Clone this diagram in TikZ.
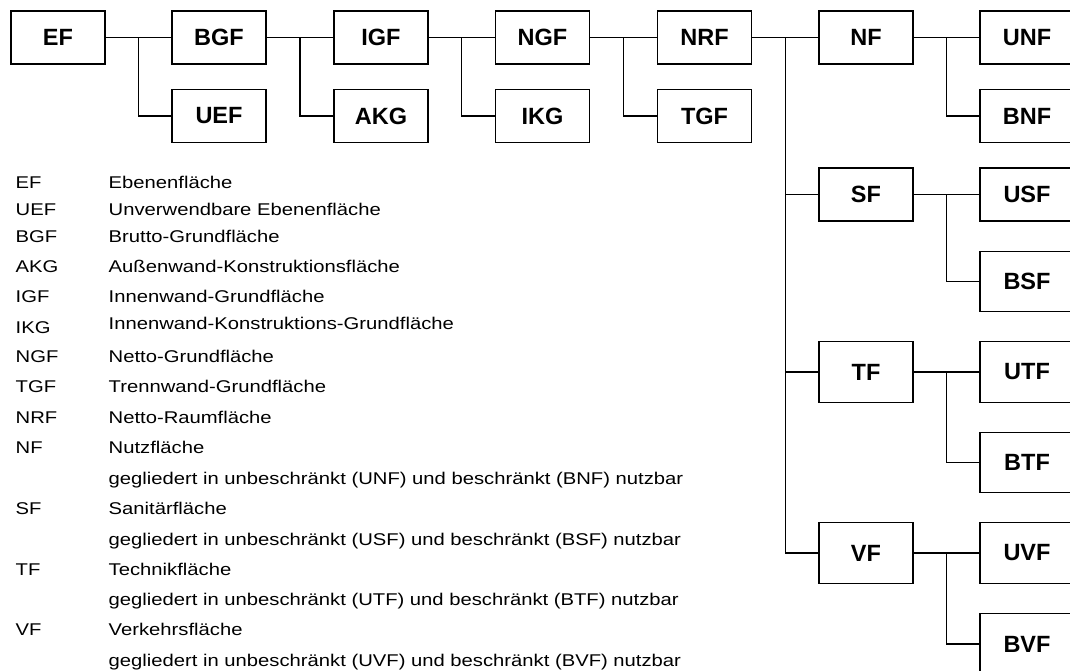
\documentclass[tikz,border=0pt]{standalone}
\usepackage{fontspec}
\setmainfont{Liberation Sans}
\newfontfamily\legfont[FakeStretch=1.19]{Liberation Sans}
\usetikzlibrary{positioning,calc}

\begin{document}
\begin{tikzpicture}[x=1pt,y=-1pt,line width=1.4pt,
  b/.style={draw,minimum width=94pt,minimum height=53pt,inner sep=0pt,font=\fontsize{23.5}{24}\selectfont\bfseries},
  bb/.style={b,minimum height=60.5pt},
  t/.style={anchor=base west,inner sep=0pt,font=\legfont\fontsize{17}{18}\selectfont}]
  \useasboundingbox (0,0) rectangle (1070,670);
  \clip (0,0) rectangle (1070,670);
  % boxes
  \foreach \n/\x in {EF/58,BGF/219,IGF/381,NGF/542.5,NRF/704.5,NF/866,UNF/1027}
    \node[b] (\n) at (\x,37.5) {\n};
  \foreach \n/\x in {UEF/219,AKG/381,IKG/542.5,TGF/704.5,BNF/1027}
    \node[b] (\n) at (\x,116) {\n};
  \node[b] (SF) at (866,194.5) {SF};
  \node[b] (USF) at (1027,194.5) {USF};
  \node[bb] (BSF) at (1027,281.5) {BSF};
  \foreach \n/\y in {TF/372,VF/553}
    \node[bb] (\n) at (866,\y) {\n};
  \foreach \n/\y in {UTF/372,BTF/462.5,UVF/553,BVF/644}
    \node[bb] (\n) at (1027,\y) {\n};
  % connectors
  \foreach \p/\a/\c in {EF/BGF/UEF,BGF/IGF/AKG,IGF/NGF/IKG,NGF/NRF/TGF,
                        NF/UNF/BNF,SF/USF/BSF,TF/UTF/BTF,VF/UVF/BVF}{
    \coordinate (j\p) at ($(\p.east)!0.5!(\a.west)$);
    \draw (\p) -- (\a);
    \draw (j\p) |- (\c.west);
  }
  \coordinate (jNRF) at ($(NRF.east)!0.5!(NF.west)$);
  \draw (NRF) -- (NF);
  \foreach \c in {SF,TF,VF}{\draw (jNRF) |- (\c.west);}
  % legend
  \foreach \i/\y/\a in {1/182/EF,2/209/UEF,3/236/BGF,4/266/AKG,5/296/IGF,6/327/IKG,
                        7/356/NGF,8/386/TGF,9/417/NRF,10/447/NF,11/508/SF,12/569/TF,13/629/VF}
    \node[t] (a\i) at (15,\y+6) {\a};
  \foreach \i/\y/\d in {1/182/Ebenenfläche,2/209/Unverwendbare Ebenenfläche,
      3/236/Brutto-Grundfläche,4/266/Außenwand-Konstruktionsfläche,
      5/296/Innenwand-Grundfläche,6/323/Innenwand-Konstruktions-Grundfläche,
      7/356/Netto-Grundfläche,8/386/Trennwand-Grundfläche,9/417/Netto-Raumfläche,
      10/447/Nutzfläche,11/478/gegliedert in unbeschränkt (UNF) und beschränkt (BNF) nutzbar,
      12/508/Sanitärfläche,13/539/gegliedert in unbeschränkt (USF) und beschränkt (BSF) nutzbar,
      14/569/Technikfläche,15/599/gegliedert in unbeschränkt (UTF) und beschränkt (BTF) nutzbar,
      16/629/Verkehrsfläche,17/660/gegliedert in unbeschränkt (UVF) und beschränkt (BVF) nutzbar}
    \node[t] (d\i) at (108,\y+6) {\d};
\end{tikzpicture}
\end{document}
